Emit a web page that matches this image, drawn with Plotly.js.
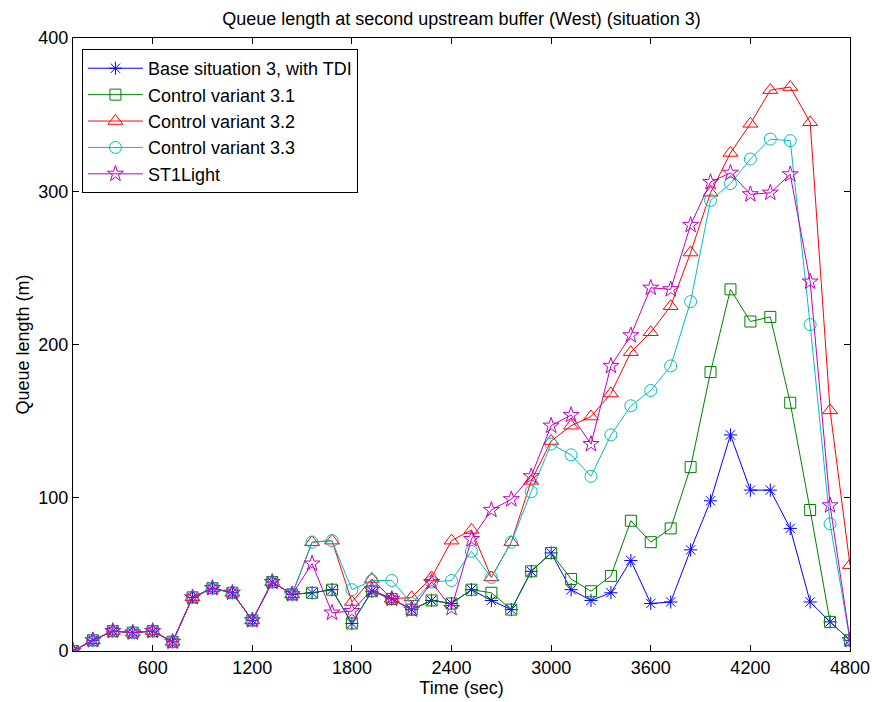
<!DOCTYPE html>
<html>
<head>
<meta charset="utf-8">
<script src="https://cdn.plot.ly/plotly-3.0.1.min.js"></script>
<style>html,body{margin:0;padding:0;background:#fff;}#chart{width:872px;height:702px;}</style>
</head>
<body>
<div id="chart"></div>
<script>
const times = [120,240,360,480,600,720,840,960,1080,1200,1320,1440,1560,1680,1800,1920,2040,2160,2280,2400,2520,2640,2760,2880,3000,3120,3240,3360,3480,3600,3720,3840,3960,4080,4200,4320,4440,4560,4680,4800];
const baseTDI = [0,7,13,12,13,6,35,41,38,20,45,37,38,40,18,39,34,27,33,31,40,33,27,52,64,40,33,38,59,31,32,66,98,141,105,105,80,32,19,7];
const variant31 = [0,7,13,12,13,6,35,41,38,20,45,37,38,40,18,39,34,27,33,31,40,38,27,52,64,47,39,49,85,71,80,120,182,236,215,218,162,92,19,7];
const variant32 = [0,7,13,12,13,6,35,41,38,20,45,37,71,72,32,47,34,35,48,72,79,48,71,111,137,147,153,168,195,208,225,260,299,325,344,366,368,345,157,56];
const variant33 = [0,7,13,12,13,6,35,41,38,20,45,37,71,72,40,46,46,31,45,46,65,48,71,104,135,128,114,141,160,170,186,228,294,305,321,334,333,213,83,7];
const st1Light = [0,7,13,12,13,6,35,41,38,20,45,37,57,25,26,40,34,27,45,28,73,92,99,114,147,154,135,186,206,237,236,278,306,312,298,299,311,241,95,7];
const seriesNames = ["Base situation 3, with TDI","Control variant 3.1","Control variant 3.2","Control variant 3.3","ST1Light"];
const xTicks = [600,1200,1800,2400,3000,3600,4200,4800];
const yTicks = [0,100,200,300,400];

const styles = [
  {color:"#0000ff", symbol:"asterisk-open", size:11},
  {color:"#008000", symbol:"square-open", size:11},
  {color:"#ff0000", symbol:"triangle-up-open", size:13},
  {color:"#00bfbf", symbol:"circle-open", size:12},
  {color:"#bf00bf", symbol:"star-open", size:12}
];
const allY = [baseTDI, variant31, variant32, variant33, st1Light];
const traces = allY.map((ys,i)=>({
  x: times, y: ys, name: seriesNames[i], type:"scatter", mode:"lines+markers",
  line:{color:styles[i].color, width:1},
  marker:{symbol:styles[i].symbol, size:styles[i].size, color:styles[i].color, line:{color:styles[i].color, width:1}}
}));

const fontFam = "Liberation Sans, Arial, sans-serif";
const layout = {
  width:872, height:702,
  margin:{l:73, r:22, t:38, b:51},
  paper_bgcolor:"#fff", plot_bgcolor:"#fff",
  font:{family:fontFam, size:18, color:"#000"},
  title:{text:"Queue length at second upstream buffer (West) (situation 3)", x:0.5, xref:"paper", xanchor:"center", y:0.974, yanchor:"middle", font:{size:18}},
  xaxis:{range:[120,4800], tickvals:xTicks, ticktext:xTicks.map(String), ticks:"inside", ticklen:6, tickcolor:"#000",
    showline:true, linecolor:"#000", linewidth:1, mirror:"ticks", showgrid:false, zeroline:false,
    tickfont:{size:18},
    title:{text:"Time (sec)", standoff:2, font:{size:18}}},
  yaxis:{range:[0,400], tickvals:yTicks, ticktext:yTicks.map(String), ticks:"inside", ticklen:6, tickcolor:"#000",
    showline:true, linecolor:"#000", linewidth:1, mirror:"ticks", showgrid:false, zeroline:false,
    tickfont:{size:18},
    title:{text:"Queue length (m)", standoff:4, font:{size:18}}},
  legend:{x:0.0115, y:0.982, xanchor:"left", yanchor:"top", bgcolor:"#fff", bordercolor:"#000", borderwidth:1,
    font:{size:18}, tracegroupgap:0, itemwidth:55},
  showlegend:true
};
Plotly.newPlot("chart", traces, layout, {displayModeBar:false, staticPlot:true});
</script>
</body>
</html>
